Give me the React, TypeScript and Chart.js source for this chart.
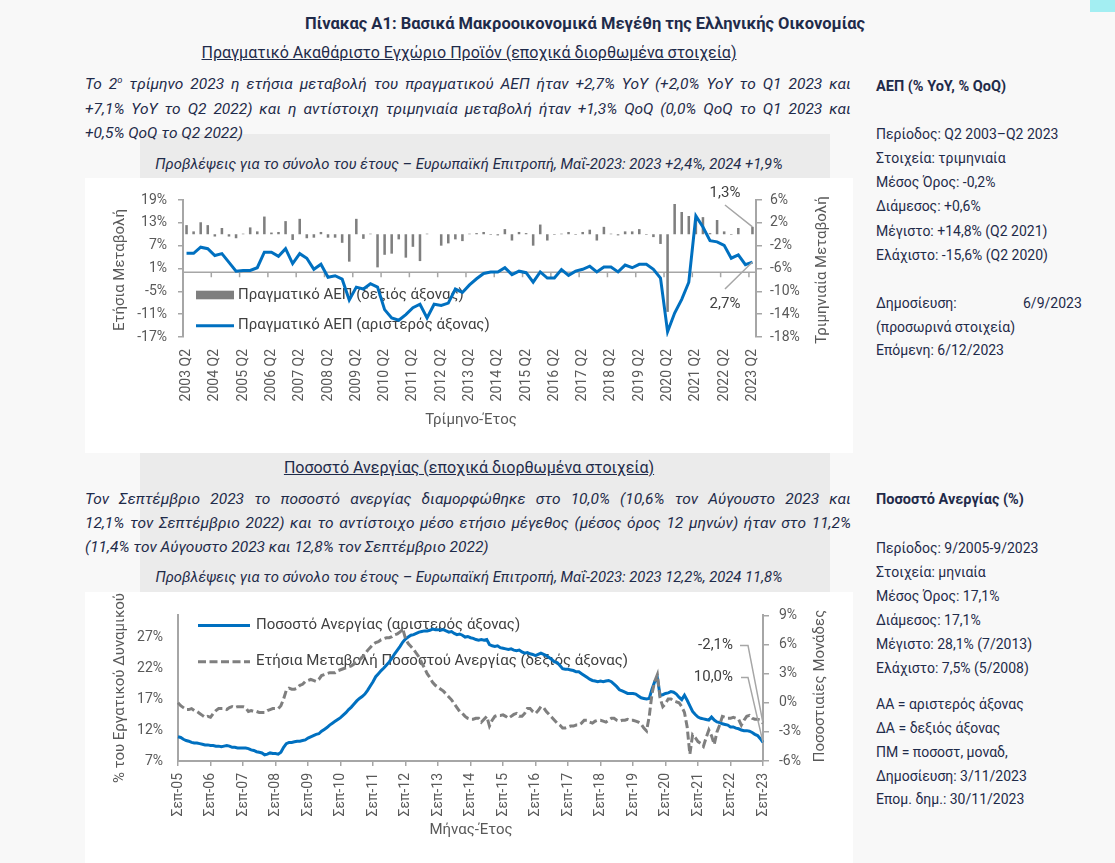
import React, { useEffect, useLayoutEffect, useRef } from "react";
import { Chart, registerables } from "chart.js";
Chart.register(...registerables);

const FONT = "Roboto, 'Noto Sans', 'DejaVu Sans', sans-serif";
const NAVY = "#1f2b4a";
const TICK = "#595959";
const AXIS = "#a6a6a6";
const BLUE = "#0070c0";
const GREY = "#7f7f7f";

// ---------- GDP (quarterly, Q2 2003 – Q2 2023) ----------
const gdpFirstYear = 2003;
const gdpLastYear = 2023;
const quarterNames = ["Q1", "Q2", "Q3", "Q4"];
const gdpLabels: string[] = [];
for (let y = gdpFirstYear; y <= gdpLastYear; y++) {
  for (let q = 0; q < 4; q++) {
    if (y === gdpFirstYear && q < 1) continue;
    if (y === gdpLastYear && q > 1) continue;
    gdpLabels.push(`${y} ${quarterNames[q]}`);
  }
}
// YoY % (left axis)
const gdpYoY = [
  5.0, 5.0, 6.6, 6.2, 4.4, 4.9, 2.6, 0.3, 0.5, 0.5,
  1.2, 5.3, 5.3, 4.2, 6.2, 2.3, 4.9, 3.7, 0.8, 2.1,
  -1.3, -0.9, -1.8, -7.3, -3.9, -4.4, -3.0, -3.9, -9.8, -12.0,
  -12.6, -11.1, -9.3, -8.4, -12.0, -8.4, -8.7, -8.1, -4.4, -5.3,
  -3.3, -1.7, -0.3, 0.1, 0.1, 1.2, -0.6, 0.3, -0.1, -2.6,
  0.1, -1.5, -1.5, 0.7, -0.8, 0.3, 0.8, 1.6, 0.1, 1.4,
  1.4, 0.1, 1.9, 1.2, 2.1, 2.1, 0.8, -1.5, -15.6, -10.7,
  -7.1, -2.6, 14.8, 11.9, 8.3, 8.0, 7.1, 3.7, 4.6, 2.0,
  2.7,
];
// QoQ % (right axis)
const gdpQoQ = [
  1.6, 0.5, 2.1, 1.6, -0.4, 1.1, -0.4, -0.7, 0.1, 1.2,
  0.5, 3.1, 0.3, 0.4, 2.3, -1.0, 2.7, -0.7, -0.6, 0.4,
  -0.6, -0.6, -1.5, -4.8, 2.7, -0.8, 0.1, -5.8, -3.6, -3.4,
  -0.9, -4.1, -2.2, -4.7, 0.1, 0.0, -2.0, -1.6, -0.9, -1.2,
  0.1, 0.2, 0.4, -0.1, -0.2, 0.9, -1.1, 0.4, 0.2, -2.0,
  1.7, -1.1, -0.1, 0.1, 0.4, -0.1, 0.4, 0.8, -1.1, 1.3,
  0.1, -0.2, 0.5, 0.5, 0.9, -0.1, -0.5, -1.7, -13.6, 5.3,
  3.9, 3.2, 2.6, 3.0, 0.2, 2.5, 0.5, -0.1, 1.1, 0.0,
  1.3,
];
const gdpLeftTicks = { min: -17, max: 19, step: 6 };
const gdpRightTicks = { min: -18, max: 6, step: 4 };

// ---------- Unemployment (monthly, Sep 2005 – Sep 2023) ----------
const monthNames = ["Ιαν", "Φεβ", "Μαρ", "Απρ", "Μαΐ", "Ιουν", "Ιουλ", "Αυγ", "Σεπ", "Οκτ", "Νοε", "Δεκ"];
const unLabels: string[] = [];
for (let y = 2005, m = 8; y < 2023 || (y === 2023 && m <= 8); ) {
  unLabels.push(`${monthNames[m]}-${String(y % 100).padStart(2, "0")}`);
  m++;
  if (m === 12) { m = 0; y++; }
}
// unemployment rate % (left axis)
const unRate = [
  10.9, 10.8, 10.5, 10.3, 10.2, 10.0, 9.9, 9.9, 9.8, 9.7, 9.6, 9.6,
  9.5, 9.5, 9.4, 9.4, 9.3, 9.4, 9.5, 9.4, 9.2, 9.2, 9.1, 9.1,
  9.1, 9.1, 9.0, 8.8, 8.7, 8.5, 8.4, 8.3, 8.0, 8.1, 8.3, 8.2,
  8.2, 8.1, 8.4, 9.2, 9.8, 10.0, 10.0, 10.1, 10.2, 10.2, 10.3, 10.4,
  10.7, 10.9, 11.1, 11.3, 11.4, 11.8, 12.1, 12.4, 12.8, 13.1, 13.4, 13.7,
  14.0, 14.4, 14.8, 15.3, 15.7, 16.2, 16.7, 17.1, 17.4, 17.8, 18.4, 19.1,
  19.8, 20.6, 21.1, 21.6, 22.0, 22.5, 23.0, 23.6, 24.3, 24.9, 25.5, 26.2,
  26.7, 27.0, 27.3, 27.4, 27.6, 27.8, 27.9, 28.0, 28.0, 28.1, 28.3, 28.2,
  28.2, 28.1, 28.2, 28.0, 27.8, 27.9, 27.6, 27.4, 27.5, 27.3, 27.0, 27.1,
  26.9, 26.8, 26.6, 26.5, 26.6, 26.5, 26.6, 25.8, 25.6, 25.5, 25.6, 25.3,
  25.2, 25.1, 25.0, 25.1, 24.9, 24.8, 24.9, 24.6, 24.4, 24.5, 24.3, 24.2,
  24.0, 24.2, 24.4, 24.2, 24.0, 23.7, 23.4, 23.0, 22.9, 22.4, 21.9, 21.8,
  21.8, 21.7, 21.6, 21.4, 21.4, 21.1, 20.8, 20.5, 20.2, 20.0, 19.9, 19.8,
  19.9, 19.8, 19.9, 20.0, 19.8, 19.4, 19.0, 18.5, 18.3, 18.1, 17.9, 17.9,
  17.9, 17.8, 17.5, 17.2, 17.1, 17.0, 17.1, 18.6, 19.8, 20.4, 17.6, 17.7,
  17.9, 18.0, 18.2, 18.1, 17.8, 17.3, 16.9, 17.6, 16.8, 15.9, 15.0, 14.5,
  14.1, 13.9, 13.8, 13.7, 13.6, 14.1, 13.6, 13.3, 13.2, 13.0, 12.9, 12.8,
  12.5, 12.5, 12.3, 12.2, 12.0, 11.9, 11.9, 11.8, 11.6, 11.3, 11.1, 10.6,
  10.0,
];
// annual change, percentage points (right axis)
const unChange = [
  0.0, -0.3, -0.5, -0.7, -0.7, -0.6, -0.8, -0.9, -1.1, -1.3, -1.5, -1.4,
  -1.5, -1.1, -0.8, -0.6, -0.6, -0.6, -0.7, -0.5, -0.4, -0.5, -0.4, -0.4,
  -0.4, -0.5, -0.9, -0.8, -0.9, -0.9, -1.0, -1.0, -1.0, -0.8, -0.7, -0.6,
  -0.6, -0.6, -0.3, 0.4, 1.3, 1.5, 1.4, 1.4, 1.5, 1.8, 1.9, 2.2,
  2.3, 2.4, 2.3, 2.2, 2.4, 2.8, 2.9, 3.0, 3.1, 3.1, 3.1, 3.3,
  3.4, 3.5, 3.6, 3.7, 3.8, 4.0, 4.2, 4.4, 4.7, 5.0, 5.4, 5.7,
  6.0, 6.2, 6.3, 6.5, 6.6, 6.7, 6.7, 6.8, 7.0, 7.1, 7.3, 7.6,
  6.6, 6.1, 5.8, 5.5, 5.1, 4.7, 4.1, 3.6, 3.0, 2.6, 2.1, 1.8,
  1.6, 1.4, 1.2, 0.9, 0.6, 0.3, -0.1, -0.5, -0.9, -1.1, -1.4, -1.6,
  -1.7, -1.7, -1.6, -1.6, -2.0, -1.7, -1.4, -2.4, -1.8, -1.4, -1.3, -1.3,
  -1.25, -1.4, -1.6, -1.4, -1.2, -1.1, -1.4, -1.4, -1.1, -0.6, -0.6, -0.9,
  -1.1, -0.8, -0.4, -0.5, -0.9, -1.2, -1.5, -1.8, -2.1, -2.3, -2.6, -2.6,
  -2.5, -2.4, -2.4, -2.3, -2.3, -2.1, -1.8, -1.8, -2.0, -2.1, -1.9, -1.8,
  -1.8, -1.9, -2.0, -1.8, -1.6, -1.6, -1.8, -1.9, -1.8, -1.8, -1.7, -1.8,
  -1.8, -1.9, -2.0, -2.2, -2.6, -2.9, -1.4, 0.9, 2.2, 2.9, 0.5, -0.4,
  -0.1, 0.4, 0.4, 0.2, 0.1, 0.0, -0.4, -1.0, -2.5, -5.3, -3.3, -3.6,
  -4.0, -4.2, -4.5, -3.6, -2.8, -3.4, -4.3, -3.0, -2.3, -1.4, -1.5, -1.6,
  -1.6, -1.5, -1.6, -1.7, -2.3, -1.8, -1.4, -1.3, -1.6, -1.7, -1.7, -1.8,
  -2.1,
];
const unLeftTickValues = [7, 12, 17, 22, 27];
const unLeftRange = { min: 7, max: 30.5 };
const unRightTicks = { min: -6, max: 9, step: 3 };

const fmtPct = (v: number) => `${v}%`;
const fmtComma = (v: number) => `${v.toFixed(1).replace(".", ",")}%`;

function drawRotated(ctx: CanvasRenderingContext2D, text: string, x: number, y: number) {
  ctx.save();
  ctx.translate(x, y);
  ctx.rotate(-Math.PI / 2);
  ctx.textAlign = "center";
  ctx.textBaseline = "middle";
  ctx.fillText(text, 0, 0);
  ctx.restore();
}

const gdpDecor = {
  id: "gdpDecor",
  beforeDatasetsDraw(chart: any) {
    const { ctx, chartArea: a, scales } = chart;
    const xs = scales.x;
    const yL = scales.yL;
    const y0 = yL.getPixelForValue(0);
    const w = xs.getPixelForValue(1) - xs.getPixelForValue(0);
    ctx.save();
    ctx.strokeStyle = AXIS;
    ctx.lineWidth = 1.5;
    ctx.beginPath();
    ctx.moveTo(a.left, y0);
    ctx.lineTo(a.right, y0);
    for (let i = 0; i < gdpLabels.length; i += 4) {
      const px = xs.getPixelForValue(i) - w / 2;
      ctx.moveTo(px, y0);
      ctx.lineTo(px, y0 + 5);
    }
    ctx.stroke();
    // legend
    ctx.font = `15px ${FONT}`;
    ctx.fillStyle = GREY;
    ctx.fillRect(a.left + 13, a.top + 90.7, 38, 8.6);
    ctx.strokeStyle = BLUE;
    ctx.lineWidth = 3;
    ctx.beginPath();
    ctx.moveTo(a.left + 13, a.top + 125.7);
    ctx.lineTo(a.left + 51, a.top + 125.7);
    ctx.stroke();
    ctx.fillStyle = "#404040";
    ctx.textAlign = "left";
    ctx.textBaseline = "middle";
    ctx.fillText(chart.data.datasets[1].label, a.left + 55, a.top + 95);
    ctx.fillText(chart.data.datasets[0].label, a.left + 55, a.top + 125.7);
    ctx.restore();
  },
  afterDraw(chart: any) {
    const { ctx, chartArea: a, scales } = chart;
    const last = gdpLabels.length - 1;
    const lx = scales.x.getPixelForValue(last);
    const qoq = gdpQoQ[last];
    const yoy = gdpYoY[last];
    ctx.save();
    ctx.strokeStyle = AXIS;
    ctx.lineWidth = 1.5;
    ctx.beginPath();
    ctx.moveTo(lx - 27.5, a.top + 5);
    ctx.lineTo(lx, scales.yR.getPixelForValue(qoq));
    ctx.moveTo(lx - 27.5, a.top + 89);
    ctx.lineTo(lx, scales.yL.getPixelForValue(yoy));
    ctx.stroke();
    ctx.font = `15px ${FONT}`;
    ctx.fillStyle = "#404040";
    ctx.textAlign = "center";
    ctx.textBaseline = "middle";
    ctx.fillText(fmtComma(qoq), lx - 27.5, a.top - 7);
    ctx.fillText(fmtComma(yoy), lx - 27.5, a.top + 104);
    ctx.fillStyle = TICK;
    drawRotated(ctx, "Ετήσια Μεταβολή", 35, a.top + 70);
    drawRotated(ctx, "Τριμηνιαία Μεταβολή", 737, a.top + 70);
    ctx.textAlign = "center";
    ctx.fillText("Τρίμηνο-Έτος", 386, 242);
    ctx.restore();
  },
};

const unDecor = {
  id: "unDecor",
  beforeDatasetsDraw(chart: any) {
    const { ctx, chartArea: a } = chart;
    ctx.save();
    ctx.lineWidth = 3;
    ctx.strokeStyle = BLUE;
    ctx.beginPath();
    ctx.moveTo(a.left + 20, a.top + 10);
    ctx.lineTo(a.left + 72, a.top + 10);
    ctx.stroke();
    ctx.strokeStyle = GREY;
    ctx.setLineDash([8, 3.5]);
    ctx.beginPath();
    ctx.moveTo(a.left + 20, a.top + 46.3);
    ctx.lineTo(a.left + 72, a.top + 46.3);
    ctx.stroke();
    ctx.setLineDash([]);
    ctx.font = `15px ${FONT}`;
    ctx.fillStyle = "#404040";
    ctx.textAlign = "left";
    ctx.textBaseline = "middle";
    ctx.fillText(chart.data.datasets[1].label, a.left + 78, a.top + 10);
    ctx.fillText(chart.data.datasets[0].label, a.left + 78, a.top + 46.3);
    ctx.restore();
  },
  afterDraw(chart: any) {
    const { ctx, chartArea: a, scales } = chart;
    const last = unLabels.length - 1;
    const lx = scales.x.getPixelForValue(last);
    const chg = unChange[last];
    const rate = unRate[last];
    ctx.save();
    ctx.strokeStyle = AXIS;
    ctx.lineWidth = 1.5;
    ctx.beginPath();
    ctx.moveTo(lx - 23, a.top + 30);
    ctx.lineTo(lx - 15, a.top + 30);
    ctx.lineTo(lx, scales.yR.getPixelForValue(chg));
    ctx.moveTo(lx - 22, a.top + 62);
    ctx.lineTo(lx - 15, a.top + 62);
    ctx.lineTo(lx, scales.yL.getPixelForValue(rate));
    ctx.stroke();
    ctx.font = `15px ${FONT}`;
    ctx.fillStyle = "#404040";
    ctx.textAlign = "right";
    ctx.textBaseline = "middle";
    ctx.fillText(fmtComma(chg), lx - 30, a.top + 30);
    ctx.fillText(fmtComma(rate), lx - 30, a.top + 62);
    ctx.fillStyle = TICK;
    drawRotated(ctx, "% του Εργατικού Δυναμικού", 35, 96);
    drawRotated(ctx, "Ποσοστιαίες Μονάδες", 735, 94);
    ctx.textAlign = "center";
    ctx.fillText("Μήνας-Έτος", 386, 238);
    ctx.restore();
  },
};

const tickFont = { family: FONT, size: 14 };

function GdpChart() {
  const ref = useRef<HTMLCanvasElement>(null);
  useEffect(() => {
    const chart = new Chart(ref.current as HTMLCanvasElement, {
      type: "bar",
      data: {
        labels: gdpLabels,
        datasets: [
          {
            type: "line",
            label: "Πραγματικό ΑΕΠ (αριστερός άξονας)",
            data: gdpYoY,
            yAxisID: "yL",
            borderColor: BLUE,
            borderWidth: 3,
            pointRadius: 0,
            tension: 0,
            order: 0,
          } as any,
          {
            type: "bar",
            label: "Πραγματικό ΑΕΠ (δεξιός άξονας)",
            data: gdpQoQ,
            yAxisID: "yR",
            backgroundColor: GREY,
            barPercentage: 0.36,
            categoryPercentage: 1,
            order: 1,
          } as any,
        ],
      },
      options: {
        animation: false,
        responsive: false,
        layout: { padding: { top: 22, left: 0, right: 0, bottom: 0 } },
        plugins: { legend: { display: false }, tooltip: { enabled: false } },
        scales: {
          x: {
            type: "category",
            offset: true,
            grid: { display: false, drawTicks: false },
            border: { display: false },
            ticks: {
              autoSkip: false,
              maxRotation: 90,
              minRotation: 90,
              padding: 12,
              color: TICK,
              font: tickFont,
              callback: (_v: any, i: number) => (i % 4 === 0 ? gdpLabels[i] : ""),
            },
            afterFit: (s: any) => { s.height = 115; },
          },
          yL: {
            position: "left",
            min: gdpLeftTicks.min,
            max: gdpLeftTicks.max,
            ticks: { stepSize: gdpLeftTicks.step, padding: 11, color: TICK, font: tickFont, callback: (v: any) => fmtPct(v) },
            grid: { drawOnChartArea: false, drawTicks: true, tickLength: 5, color: AXIS, lineWidth: 1.5 },
            border: { display: true, color: AXIS, width: 2 },
            afterFit: (s: any) => { s.width = 98; },
          },
          yR: {
            position: "right",
            min: gdpRightTicks.min,
            max: gdpRightTicks.max,
            ticks: { stepSize: gdpRightTicks.step, padding: 8, color: TICK, font: tickFont, callback: (v: any) => fmtPct(v) },
            grid: { drawOnChartArea: false, drawTicks: true, tickLength: 6, color: AXIS, lineWidth: 1.5 },
            border: { display: true, color: AXIS, width: 2 },
            afterFit: (s: any) => { s.width = 97; },
          },
        },
      } as any,
      plugins: [gdpDecor],
    });
    return () => chart.destroy();
  }, []);
  return <canvas ref={ref} width={768} height={274} style={{ display: "block" }} />;
}

function UnChart() {
  const ref = useRef<HTMLCanvasElement>(null);
  useEffect(() => {
    const chart = new Chart(ref.current as HTMLCanvasElement, {
      type: "line",
      data: {
        labels: unLabels,
        datasets: [
          {
            label: "Ετήσια Μεταβολή Ποσοστού Ανεργίας (δεξιός άξονας)",
            data: unChange,
            yAxisID: "yR",
            borderColor: GREY,
            borderWidth: 3,
            borderDash: [8, 3.5],
            pointRadius: 0,
            tension: 0,
            order: 0,
          },
          {
            label: "Ποσοστό Ανεργίας (αριστερός άξονας)",
            data: unRate,
            yAxisID: "yL",
            borderColor: BLUE,
            borderWidth: 3,
            pointRadius: 0,
            tension: 0,
            order: 1,
          },
        ],
      },
      options: {
        animation: false,
        responsive: false,
        layout: { padding: { top: 21, left: 0, right: 0, bottom: 0 } },
        plugins: { legend: { display: false }, tooltip: { enabled: false } },
        scales: {
          x: {
            type: "category",
            offset: false,
            grid: {
              drawOnChartArea: false,
              drawTicks: true,
              tickLength: 5,
              color: (c: any) => (c.index % 12 === 0 ? AXIS : "rgba(0,0,0,0)"),
              lineWidth: 1.5,
            },
            border: { display: true, color: AXIS, width: 2 },
            ticks: {
              autoSkip: false,
              maxRotation: 90,
              minRotation: 90,
              padding: 7,
              color: TICK,
              font: tickFont,
              callback: (_v: any, i: number) => (i % 12 === 0 ? unLabels[i] : ""),
            },
            afterFit: (s: any) => { s.height = 102; },
          },
          yL: {
            position: "left",
            min: unLeftRange.min,
            max: unLeftRange.max,
            afterBuildTicks: (s: any) => { s.ticks = unLeftTickValues.map((v) => ({ value: v })); },
            ticks: { padding: 15, color: TICK, font: tickFont, callback: (v: any) => fmtPct(v) },
            grid: { drawOnChartArea: false, drawTicks: false },
            border: { display: true, color: AXIS, width: 2 },
            afterFit: (s: any) => { s.width = 93; },
          },
          yR: {
            position: "right",
            min: unRightTicks.min,
            max: unRightTicks.max,
            ticks: { stepSize: unRightTicks.step, padding: 10, color: TICK, font: tickFont, callback: (v: any) => fmtPct(v) },
            grid: { drawOnChartArea: false, drawTicks: true, tickLength: 6, color: AXIS, lineWidth: 1.5 },
            border: { display: true, color: AXIS, width: 2 },
            afterFit: (s: any) => { s.width = 90; },
          },
        },
      } as any,
      plugins: [unDecor],
    });
    return () => chart.destroy();
  }, []);
  return <canvas ref={ref} width={768} height={271} style={{ display: "block" }} />;
}

function FitLine({ x, y, width, justify, style, children }: any) {
  const ref = useRef<HTMLSpanElement>(null);
  useLayoutEffect(() => {
    const el = ref.current;
    if (!el) return;
    el.style.wordSpacing = "0px";
    el.style.transform = "none";
    const w = el.getBoundingClientRect().width;
    const spaces = (el.textContent || "").split(" ").length - 1;
    if (w > width) el.style.transform = `scaleX(${width / w})`;
    else if (justify && spaces > 0) el.style.wordSpacing = `${(width - w) / spaces}px`;
  }, []);
  return (
    <div style={{ position: "absolute", left: x, top: y - 12, width, height: 24, lineHeight: "24px", whiteSpace: "nowrap", ...style }}>
      <span ref={ref} style={{ display: "inline-block", transformOrigin: "left center" }}>{children}</span>
    </div>
  );
}

function Center({ cx, y, size, style, children }: any) {
  return (
    <div style={{ position: "absolute", left: cx - 450, width: 900, top: y - 12, height: 24, lineHeight: "24px", textAlign: "center", whiteSpace: "nowrap", fontSize: size, ...style }}>
      {children}
    </div>
  );
}

function Side({ y, children, bold, x = 876 }: any) {
  return (
    <div style={{ position: "absolute", left: x, top: y - 11, height: 22, lineHeight: "22px", fontSize: bold ? 14.5 : 14, whiteSpace: "nowrap", fontWeight: bold ? 700 : 400 }}>
      {children}
    </div>
  );
}

const para = { fontStyle: "italic", fontSize: 15.5 };

export default function App() {
  return (
    <div style={{ position: "relative", width: 1115, height: 863, overflow: "hidden", background: "#f8f8f8", fontFamily: FONT, color: NAVY }}>
      <style>{"body{margin:0;background:#f8f8f8}"}</style>
      <div style={{ position: "absolute", left: 1090, top: 0, width: 25, height: 12, background: "#a3eef2" }} />

      <Center cx={585} y={24} size={16.5} style={{ fontWeight: 700 }}>
        Πίνακας Α1: Βασικά Μακροοικονομικά Μεγέθη της Ελληνικής Οικονομίας
      </Center>
      <Center cx={469} y={53} size={16} style={{ textDecoration: "underline" }}>
        Πραγματικό Ακαθάριστο Εγχώριο Προϊόν (εποχικά διορθωμένα στοιχεία)
      </Center>

      <div style={{ position: "absolute", left: 140, top: 134, width: 690, height: 44, background: "#ebebeb" }} />
      <FitLine x={85} y={84} width={766} justify style={para}>
        Το 2<sup style={{ fontSize: "0.6em", lineHeight: 0 }}>ο</sup> τρίμηνο 2023 η ετήσια μεταβολή του πραγματικού ΑΕΠ ήταν +2,7% YoY (+2,0% YoY το Q1 2023 και
      </FitLine>
      <FitLine x={85} y={108.5} width={766} justify style={para}>
        +7,1% YoY το Q2 2022) και η αντίστοιχη τριμηνιαία μεταβολή ήταν +1,3% QoQ (0,0% QoQ το Q1 2023 και
      </FitLine>
      <FitLine x={85} y={132.5} width={766} style={para}>
        +0,5% QoQ το Q2 2022)
      </FitLine>
      <Center cx={469} y={164} size={14.8} style={{ fontStyle: "italic" }}>
        Προβλέψεις για το σύνολο του έτους – Ευρωπαϊκή Επιτροπή, Μαΐ-2023: 2023 +2,4%, 2024 +1,9%
      </Center>

      <div style={{ position: "absolute", left: 85, top: 178, width: 768, height: 274.5, background: "#ffffff" }}>
        <GdpChart />
      </div>

      <div style={{ position: "absolute", left: 140, top: 452.5, width: 690, height: 139.5, background: "#ebebeb" }} />
      <Center cx={469} y={468} size={16} style={{ textDecoration: "underline" }}>
        Ποσοστό Ανεργίας (εποχικά διορθωμένα στοιχεία)
      </Center>
      <FitLine x={85} y={499} width={766} justify style={para}>
        Τον Σεπτέμβριο 2023 το ποσοστό ανεργίας διαμορφώθηκε στο 10,0% (10,6% τον Αύγουστο 2023 και
      </FitLine>
      <FitLine x={85} y={523} width={766} justify style={para}>
        12,1% τον Σεπτέμβριο 2022) και το αντίστοιχο μέσο ετήσιο μέγεθος (μέσος όρος 12 μηνών) ήταν στο 11,2%
      </FitLine>
      <FitLine x={85} y={547} width={766} style={para}>
        (11,4% τον Αύγουστο 2023 και 12,8% τον Σεπτέμβριο 2022)
      </FitLine>
      <Center cx={469} y={577} size={14.8} style={{ fontStyle: "italic" }}>
        Προβλέψεις για το σύνολο του έτους – Ευρωπαϊκή Επιτροπή, Μαΐ-2023: 2023 12,2%, 2024 11,8%
      </Center>

      <div style={{ position: "absolute", left: 85, top: 592, width: 768, height: 271, background: "#ffffff" }}>
        <UnChart />
      </div>

      <Side y={86.5} bold>ΑΕΠ (% YoY, % QoQ)</Side>
      <Side y={134}>Περίοδος: Q2 2003–Q2 2023</Side>
      <Side y={158}>Στοιχεία: τριμηνιαία</Side>
      <Side y={182}>Μέσος Όρος: -0,2%</Side>
      <Side y={206}>Διάμεσος: +0,6%</Side>
      <Side y={230.5}>Μέγιστο: +14,8% (Q2 2021)</Side>
      <Side y={254.5}>Ελάχιστο: -15,6% (Q2 2020)</Side>
      <Side y={302.5}>Δημοσίευση:</Side>
      <Side y={302.5} x={1023}>6/9/2023</Side>
      <Side y={326.5}>(προσωρινά στοιχεία)</Side>
      <Side y={350}>Επόμενη: 6/12/2023</Side>

      <Side y={500} bold>Ποσοστό Ανεργίας (%)</Side>
      <Side y={548}>Περίοδος: 9/2005-9/2023</Side>
      <Side y={572}>Στοιχεία: μηνιαία</Side>
      <Side y={595.5}>Μέσος Όρος: 17,1%</Side>
      <Side y={619.5}>Διάμεσος: 17,1%</Side>
      <Side y={643.5}>Μέγιστο: 28,1% (7/2013)</Side>
      <Side y={667.5}>Ελάχιστο: 7,5% (5/2008)</Side>
      <Side y={704}>ΑΑ = αριστερός άξονας</Side>
      <Side y={728}>ΔΑ = δεξιός άξονας</Side>
      <Side y={752}>ΠΜ = ποσοστ, μοναδ,</Side>
      <Side y={775.5}>Δημοσίευση: 3/11/2023</Side>
      <Side y={799}>Επομ. δημ.: 30/11/2023</Side>
    </div>
  );
}
